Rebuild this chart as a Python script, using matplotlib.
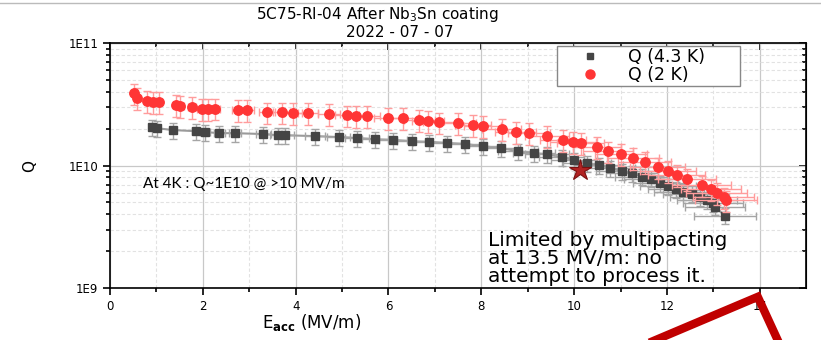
import matplotlib
matplotlib.use("Agg")
import matplotlib.pyplot as plt
from matplotlib.lines import Line2D
from matplotlib.ticker import FixedLocator, LogLocator, NullFormatter
import numpy as np

# Q(E) at 2 K
e_2k = [0.52, 0.58, 0.80, 0.93, 1.06, 1.42, 1.51, 1.77, 1.98, 2.11, 2.26, 2.76,
        2.95, 3.38, 3.70, 3.94, 4.26, 4.72, 5.10, 5.30, 5.54, 5.99, 6.31, 6.66,
        6.85, 7.09, 7.50, 7.82, 8.03, 8.44, 8.74, 9.02, 9.41, 9.76, 9.97, 10.14,
        10.49, 10.73, 11.01, 11.26, 11.52, 11.80, 12.02, 12.21, 12.43, 12.75,
        12.94, 13.07, 13.22, 13.27]
q_2k = [3.90e10, 3.56e10, 3.37e10, 3.30e10, 3.30e10, 3.12e10, 3.06e10, 3.01e10,
        2.89e10, 2.89e10, 2.92e10, 2.84e10, 2.84e10, 2.73e10, 2.73e10, 2.69e10,
        2.69e10, 2.63e10, 2.58e10, 2.54e10, 2.54e10, 2.44e10, 2.44e10, 2.35e10,
        2.31e10, 2.26e10, 2.22e10, 2.14e10, 2.10e10, 1.99e10, 1.88e10, 1.84e10,
        1.74e10, 1.62e10, 1.56e10, 1.53e10, 1.42e10, 1.31e10, 1.24e10, 1.15e10,
        1.07e10, 9.7e9, 9.0e9, 8.4e9, 7.8e9, 6.9e9, 6.4e9, 5.97e9, 5.5e9, 5.2e9]

# Q(E) at 4.3 K
e_4k = [0.90, 1.01, 1.36, 1.85, 2.05, 2.35, 2.69, 3.30, 3.62, 3.77, 4.42, 4.93,
        5.32, 5.71, 6.10, 6.50, 6.87, 7.26, 7.65, 8.03, 8.42, 8.79, 9.13, 9.41,
        9.73, 9.99, 10.27, 10.53, 10.77, 11.03, 11.24, 11.46, 11.65, 11.85,
        12.02, 12.19, 12.34, 12.53, 12.71, 12.86, 12.99, 13.03, 13.25]
q_4k = [2.06e10, 2.02e10, 1.95e10, 1.91e10, 1.88e10, 1.84e10, 1.84e10, 1.81e10,
        1.77e10, 1.77e10, 1.74e10, 1.71e10, 1.68e10, 1.64e10, 1.62e10, 1.58e10,
        1.56e10, 1.53e10, 1.50e10, 1.44e10, 1.39e10, 1.31e10, 1.26e10, 1.24e10,
        1.17e10, 1.11e10, 1.05e10, 1.01e10, 9.55e9, 9.0e9, 8.7e9, 8.1e9, 7.8e9,
        7.2e9, 6.8e9, 6.4e9, 6.1e9, 5.9e9, 5.5e9, 5.2e9, 4.9e9, 4.6e9, 3.9e9]

# relative uncertainties
e_err_rel = 0.05
q_err_rel_2k = 0.20
q_err_rel_4k = 0.15

star_e = [10.12]
star_q = [9.2e9]

x_ticks = [0, 2, 4, 6, 8, 10, 12, 14]
y_ticks = [1e9, 1e10, 1e11]
y_labels = ["1E9", "1E10", "1E11"]

RED = "#ff3535"
GRAY = "#454545"

fig = plt.figure(figsize=(8.21, 3.40), dpi=100)
ax = fig.add_axes([0.134, 0.153, 0.848, 0.720])

e2 = np.array(e_2k)
q2 = np.array(q_2k)
e4 = np.array(e_4k)
q4 = np.array(q_4k)

ax.plot(e4, q4, color="#9a9a9a", lw=1.5, zorder=3)
ax.errorbar(e4, q4, xerr=e4 * e_err_rel, yerr=q4 * q_err_rel_4k,
            fmt="s", color=GRAY, ms=5.5, mec=GRAY, ecolor="#a5a5a5",
            elinewidth=1, capsize=3, capthick=1, zorder=4)
ax.errorbar(e2, q2, xerr=e2 * e_err_rel, yerr=q2 * q_err_rel_2k,
            fmt="o", color=RED, ms=6.8, mec=RED, ecolor="#ff9c9c",
            elinewidth=1, capsize=3, capthick=1, zorder=5)
ax.plot(star_e, star_q, marker="*", ms=16, color="#b22222", mec="#7a1010",
        mew=0.8, ls="none", zorder=6)

ax.set_yscale("log")
ax.set_xlim(0, 15)
ax.set_ylim(1e9, 1e11)
ax.set_xticks(x_ticks)
ax.xaxis.set_minor_locator(FixedLocator(np.arange(1, 15, 2)))
ax.set_yticks(y_ticks)
ax.set_yticklabels(y_labels)
ax.yaxis.set_minor_locator(LogLocator(base=10, subs=np.arange(2, 10)))
ax.yaxis.set_minor_formatter(NullFormatter())

ax.grid(True, which="major", color="#c8c8c8", lw=0.9)
ax.grid(True, which="minor", color="#e2e2e2", lw=0.8, ls=(0, (3, 2)))
ax.set_axisbelow(True)

ax.tick_params(which="both", direction="out", labelsize=8.5, width=1.2)
ax.tick_params(which="major", length=5)
ax.tick_params(which="minor", length=3)
for s in ax.spines.values():
    s.set_linewidth(1.2)

# mirrored ticks on top and right
axt = ax.secondary_xaxis("top")
axt.set_xticks(x_ticks)
axt.xaxis.set_minor_locator(FixedLocator(np.arange(1, 15, 2)))
axt.tick_params(which="both", direction="in", labeltop=False, width=1.2)
axt.tick_params(which="major", length=5)
axt.tick_params(which="minor", length=3)
axr = ax.secondary_yaxis("right")
axr.set_yticks(y_ticks)
axr.yaxis.set_minor_locator(LogLocator(base=10, subs=np.arange(2, 10)))
axr.yaxis.set_minor_formatter(NullFormatter())
axr.tick_params(which="both", direction="in", labelright=False, width=1.2)
axr.tick_params(which="major", length=5)
axr.tick_params(which="minor", length=3)

ax.set_xlabel(r"E$_{\mathbf{acc}}$ (MV/m)", fontsize=12, labelpad=3)
ax.xaxis.set_label_coords(0.29, -0.10)
ax.set_ylabel("Q", fontsize=11, labelpad=8)
ax.yaxis.set_label_coords(-0.104, 0.5)

fig.text(0.459, 0.958, "5C75-RI-04 After Nb$_3$Sn coating", fontsize=11,
         ha="center", va="center")
fig.text(0.487, 0.905, "2022 - 07 - 07", fontsize=11, ha="center", va="center")

handles = [
    Line2D([], [], marker="s", ls="none", color=GRAY, ms=5),
    Line2D([], [], marker="o", ls="none", color=RED, ms=6.5),
]
# legend box stretched to the original frame width
leg = ax.legend(handles, ["Q (4.3 K)", "Q (2 K)"], loc="upper left",
                bbox_to_anchor=(0.642, 0.0, 0.263, 0.988), mode="expand",
                fontsize=12.5, frameon=True, fancybox=False,
                edgecolor="#888888", framealpha=1, borderpad=0.1,
                handletextpad=0.4, labelspacing=0.0, handlelength=3.6,
                borderaxespad=0)
leg.get_frame().set_linewidth(1.0)

ax.text(0.047, 0.424, "At 4K : Q~1E10 @ >10 MV/m", transform=ax.transAxes,
        fontsize=11, family="Lato", va="center", ha="left")
ax.text(0.543, 0.232, "Limited by multipacting\nat 13.5 MV/m: no\nattempt to process it.",
        transform=ax.transAxes, fontsize=14.5, va="top",
        ha="left", linespacing=0.92)

# slide decoration
fig.add_artist(Line2D([0.0, 1.0], [0.992, 0.992], color="#bbbbbb", lw=1,
                      transform=fig.transFigure))
fig.add_artist(Line2D([0.779, 0.923, 0.951], [-0.02, 0.127, -0.02],
                      color="#c00000", lw=6, solid_joinstyle="miter",
                      transform=fig.transFigure))

fig.savefig("out.png", dpi=100)
